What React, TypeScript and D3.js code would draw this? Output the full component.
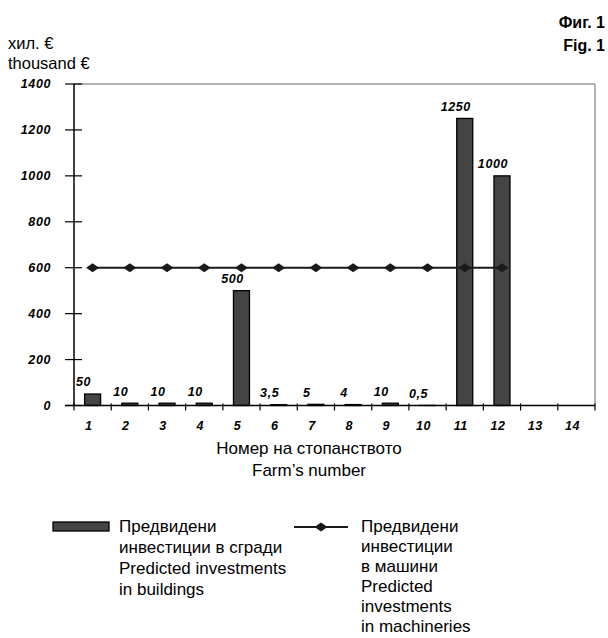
import React from 'react';
import * as d3 from 'd3';

const farms = ['1', '2', '3', '4', '5', '6', '7', '8', '9', '10', '11', '12', '13', '14'];
const buildings: (number | null)[] = [50, 10, 10, 10, 500, 3.5, 5, 4, 10, 0.5, 1250, 1000, null, null];
const machinery: (number | null)[] = [600, 600, 600, 600, 600, 600, 600, 600, 600, 600, 600, 600, null, null];
const yTicks = [0, 200, 400, 600, 800, 1000, 1200, 1400];

const legendBuildings = ['Предвидени', 'инвестиции в сгради', 'Predicted investments', 'in buildings'];
const legendMachinery = ['Предвидени', 'инвестиции', 'в машини', 'Predicted', 'investments', 'in machineries'];

const FONT = "'Liberation Sans', Arial, sans-serif";

export default function App() {
  const W = 608, H = 638;
  const left = 74, right = 595, top = 84, bottom = 405.5;
  const x = d3.scaleBand<string>().domain(farms).range([left, right]).padding(0);
  const y = d3.scaleLinear().domain([0, 1400]).range([bottom, top]);
  const bw = 16;
  const cx = (f: string) => (x(f) as number) + x.bandwidth() / 2;

  const linePts = farms
    .map((f, i) => ({ f, v: machinery[i] }))
    .filter((d) => d.v !== null) as { f: string; v: number }[];
  const line = d3.line<{ f: string; v: number }>().x((d) => cx(d.f)).y((d) => y(d.v));

  const diamond = (px: number, py: number) =>
    `M${px - 6.5},${py} L${px},${py - 4.5} L${px + 6.5},${py} L${px},${py + 4.5} Z`;

  const fmt = (v: number) => String(v).replace('.', ',');

  return (
    <svg width={W} height={H} style={{ position: 'absolute', left: 0, top: 0, background: '#fff' }}>
      {/* header texts */}
      <text x={605} y={28} textAnchor="end" fontFamily={FONT} fontWeight="bold" fontSize={16}>Фиг. 1</text>
      <text x={605} y={51} textAnchor="end" fontFamily={FONT} fontWeight="bold" fontSize={16}>Fig. 1</text>
      <text x={8} y={49} fontFamily={FONT} fontSize={16.5}>хил. €</text>
      <text x={8} y={69} fontFamily={FONT} fontSize={16.5}>thousand €</text>

      {/* frame */}
      <line x1={left} x2={right} y1={top} y2={top} stroke="#999" strokeWidth={1.5} />
      <line x1={right} x2={right} y1={top} y2={bottom} stroke="#999" strokeWidth={1.5} />

      {/* bars */}
      {farms.map((f, i) => {
        const v = buildings[i];
        if (v === null) return null;
        return (
          <rect key={'b' + f} x={cx(f) - bw / 2} y={y(v)} width={bw} height={bottom - y(v)}
            fill="#444" stroke="#000" strokeWidth={1.3} />
        );
      })}

      {/* axes */}
      <line x1={left} x2={left} y1={top} y2={bottom} stroke="#000" strokeWidth={1.5} />
      <line x1={65} x2={right} y1={bottom} y2={bottom} stroke="#000" strokeWidth={1.5} />
      {yTicks.map((t) => (
        <g key={'yt' + t}>
          <line x1={65} x2={82} y1={y(t)} y2={y(t)} stroke="#000" strokeWidth={1.2} />
          <text x={51} y={y(t)} dy="0.35em" textAnchor="end" fontFamily={FONT} fontWeight="bold"
            fontStyle="italic" fontSize={12.5} letterSpacing={0.6}>{t}</text>
        </g>
      ))}
      {[...farms.map((f) => x(f) as number), right].map((tx, i) => (
        <line key={'xt' + i} x1={tx} x2={tx} y1={bottom - 2} y2={bottom + 5} stroke="#000" strokeWidth={1.2} />
      ))}
      {farms.map((f) => (
        <text key={'xl' + f} x={cx(f) - 4} y={429.5} textAnchor="middle" fontFamily={FONT} fontWeight="bold"
          fontStyle="italic" fontSize={12.5} letterSpacing={0.5}>{f}</text>
      ))}

      {/* machinery line */}
      <path d={line(linePts) || ''} fill="none" stroke="#1a1a1a" strokeWidth={2} />
      {linePts.map((d) => (
        <path key={'m' + d.f} d={diamond(cx(d.f), y(d.v))} fill="#1a1a1a" />
      ))}

      {/* value labels */}
      {farms.map((f, i) => {
        const v = buildings[i];
        if (v === null) return null;
        return (
          <text key={'vl' + f} x={cx(f) - 9} y={y(v) - 12} dy="0.35em" textAnchor="middle" fontFamily={FONT}
            fontWeight="bold" fontStyle="italic" fontSize={12.5} letterSpacing={0.6}>{fmt(v)}</text>
        );
      })}

      {/* x axis title */}
      <text x={309} y={454} textAnchor="middle" fontFamily={FONT} fontSize={17}>Номер на стопанството</text>
      <text x={309} y={476} textAnchor="middle" fontFamily={FONT} fontSize={17}>Farm’s number</text>

      {/* legend */}
      <rect x={53} y={522} width={56} height={9} fill="#444" stroke="#000" strokeWidth={1.3} />
      {legendBuildings.map((s, i) => (
        <text key={'lb' + i} x={119} y={532 + i * 21} fontFamily={FONT} fontSize={17}>{s}</text>
      ))}
      <line x1={294} x2={348} y1={527} y2={527} stroke="#1a1a1a" strokeWidth={2} />
      <path d={diamond(321, 527)} fill="#1a1a1a" />
      {legendMachinery.map((s, i) => (
        <text key={'lm' + i} x={361} y={532 + i * 20} fontFamily={FONT} fontSize={17}>{s}</text>
      ))}
    </svg>
  );
}
